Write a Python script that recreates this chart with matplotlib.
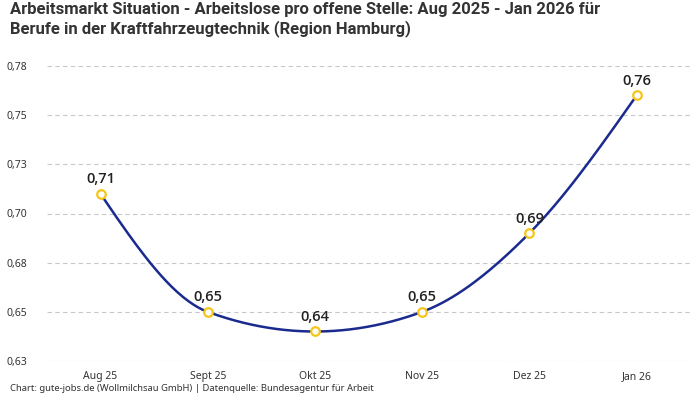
import numpy as np
import matplotlib.pyplot as plt

months = ["Aug 25", "Sept 25", "Okt 25", "Nov 25", "Dez 25", "Jan 26"]
ratio = [0.71, 0.65, 0.64, 0.65, 0.69, 0.76]
yticks = [0.625, 0.65, 0.675, 0.70, 0.725, 0.75, 0.775]
ytick_labels = ["0,63", "0,65", "0,68", "0,70", "0,73", "0,75", "0,78"]

LINE = "#1b2a8f"
GOLD = "#f5c518"
TEXT = "#333333"


def monotone_curve(x, y, n=40):
    # d3 curveMonotoneX style (Fritsch-Carlson) interpolation
    x = np.asarray(x, float)
    y = np.asarray(y, float)
    h = np.diff(x)
    s = np.diff(y) / h
    m = np.zeros_like(y)
    for i in range(1, len(y) - 1):
        if s[i - 1] * s[i] <= 0:
            m[i] = 0
        else:
            p = (s[i - 1] * h[i] + s[i] * h[i - 1]) / (h[i - 1] + h[i])
            m[i] = (np.sign(s[i - 1]) + np.sign(s[i])) * min(abs(s[i - 1]), abs(s[i]), 0.5 * abs(p))
    m[0] = (3 * s[0] - m[1]) / 2
    m[-1] = (3 * s[-1] - m[-2]) / 2
    xs, ys = [], []
    for i in range(len(h)):
        t = np.linspace(0, 1, n)
        h00 = 2 * t**3 - 3 * t**2 + 1
        h10 = t**3 - 2 * t**2 + t
        h01 = -2 * t**3 + 3 * t**2
        h11 = t**3 - t**2
        xs.append(x[i] + t * h[i])
        ys.append(h00 * y[i] + h10 * h[i] * m[i] + h01 * y[i + 1] + h11 * h[i] * m[i + 1])
    return np.concatenate(xs), np.concatenate(ys)


plt.rcParams["font.family"] = ["Noto Sans", "DejaVu Sans"]

fig = plt.figure(figsize=(7, 4), dpi=100)
ax = fig.add_axes([0.067, 0.0975, 0.919, 0.7375])

x = np.arange(len(months))
cx, cy = monotone_curve(x, ratio)
ax.plot(cx, cy, color=LINE, lw=1.8, zorder=2)
ax.scatter(x, ratio, s=38, facecolor="white", edgecolor=GOLD, linewidth=1.6, zorder=3)

for xi, v in zip(x, ratio):
    ax.annotate(f"{v:.2f}".replace(".", ","), (xi, v), xytext=(0, 5.5), textcoords="offset points",
                ha="center", va="bottom", fontsize=10.5, fontweight="semibold", color="#222222",
                family=["Open Sans", "Lato", "DejaVu Sans"])

ax.set_xlim(-0.5, len(months) - 0.5)
ax.set_ylim(0.625, 0.775)
ax.set_xticks(x)
ax.set_xticklabels(months)
ax.set_yticks(yticks)
ax.set_yticklabels(ytick_labels)
ax.tick_params(length=0, labelsize=7.5, colors=TEXT)
ax.tick_params(axis="x", pad=7)
ax.tick_params(axis="y", pad=14)
ax.grid(axis="y", color="#c8c8c8", linestyle=(0, (4, 3)), linewidth=0.8)
ax.set_axisbelow(True)
for sp in ax.spines.values():
    sp.set_visible(False)

fig.text(0.014, 0.995, "Arbeitsmarkt Situation - Arbeitslose pro offene Stelle: Aug 2025 - Jan 2026 für\n"
         "Berufe in der Kraftfahrzeugtechnik (Region Hamburg)",
         ha="left", va="top", fontsize=12, fontweight="bold", color=TEXT,
         family=["Liberation Sans Narrow", "Roboto", "DejaVu Sans"], linespacing=1.25)
fig.text(0.014, 0.017, "Chart: gute-jobs.de (Wollmilchsau GmbH) | Datenquelle: Bundesagentur für Arbeit",
         ha="left", va="bottom", fontsize=6.8, color=TEXT)

fig.savefig("out.png", dpi=100)
